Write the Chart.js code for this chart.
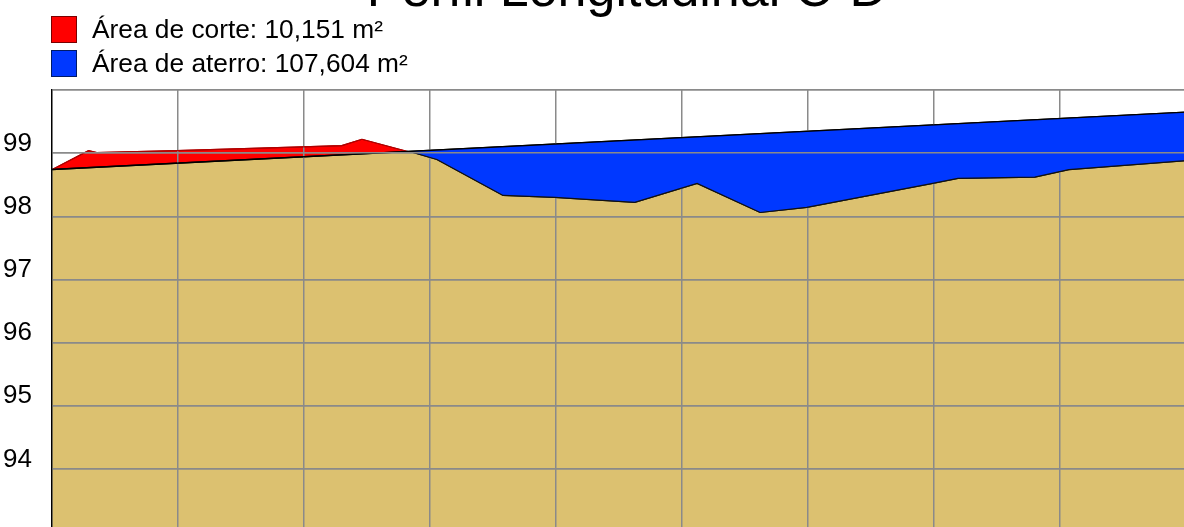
<!DOCTYPE html>
<html>
<head>
<meta charset="utf-8">
<title>Perfil Longitudinal C-D</title>
<script src="https://cdn.jsdelivr.net/npm/chart.js@4.4.1/dist/chart.umd.min.js"></script>
<style>
  html, body { margin: 0; padding: 0; background: #fff; overflow: hidden; }
  body { width: 1184px; height: 527px; position: relative; font-family: "Liberation Sans", Arial, sans-serif; }
  .wrap { position: absolute; left: 0; top: 0; width: 1254px; height: 575px; }
  #titulo { position: absolute; left: 0; top: -38px; width: 1254px; text-align: center; font-size: 52px; line-height: 52px; color: #000; white-space: nowrap; }
  .leg { position: absolute; left: 51px; height: 26px; font-size: 26.3px; line-height: 26px; color: #000; white-space: nowrap; }
  .leg i { position: absolute; left: 0; top: 0; width: 24px; height: 25px; border: 1px solid; }
  .leg span { position: absolute; left: 41px; top: 0; }
</style>
</head>
<body>
<div class="wrap"><canvas id="perfil" width="1254" height="575"></canvas></div>
<div class="wrap"><canvas id="aterro" width="1254" height="575"></canvas></div>
<div id="titulo">Perfil Longitudinal C-D</div>
<div class="leg" style="top:16px"><i style="background:#ff0000;border-color:#7a0000"></i><span>Área de corte: 10,151 m²</span></div>
<div class="leg" style="top:50px"><i style="background:#0038ff;border-color:#001a66"></i><span>Área de aterro: 107,604 m²</span></div>
<script>
// estacas (m) e cotas do terreno natural
const terrenoX = [0, 5.8, 7.1, 19.8, 39.8, 46.0, 49.2, 56.3, 57.3, 61.1, 71.6, 79.8, 92.5, 102.4, 112.4, 119.8, 139.8, 143.8, 156.0, 161.4, 180];
const terrenoY = [98.74, 99.04, 99.01, 99.04, 99.10, 99.12, 99.22, 99.03, 99.01, 98.90, 98.33, 98.30, 98.22, 98.52, 98.06, 98.14, 98.52, 98.60, 98.62, 98.74, 98.88];
// greide de projeto
const greideX = [0, 180];
const greideY = [98.74, 99.65];

const Y_MIN = 93, Y_MAX = 100, X_MAX = 180;
const COR_CORTE = '#ff0000', COR_ATERRO = '#0038ff', COR_SOLO = '#dcc170', COR_GRADE = '#8a8a8a';

const pts = (xs, ys) => xs.map((x, i) => ({ x, y: ys[i] }));
const terreno = pts(terrenoX, terrenoY);
const greide = pts(greideX, greideY);

// cota do greide numa estaca (só para escolher a cor do contorno)
function cotaGreide(x) {
  const t = (x - greideX[0]) / (greideX[1] - greideX[0]);
  return greideY[0] + t * (greideY[1] - greideY[0]);
}
const emCorte = c => c.p0.parsed.y > cotaGreide(c.p0.parsed.x) + 0.01 || c.p1.parsed.y > cotaGreide(c.p1.parsed.x) + 0.01;

function opcoes(base) {
  return {
    responsive: false,
    animation: false,
    devicePixelRatio: 1,
    layout: { padding: { top: 90, right: 68, left: 0, bottom: 0 } },
    plugins: { legend: { display: false }, title: { display: false }, tooltip: { enabled: false } },
    scales: {
      x: {
        type: 'linear', min: 0, max: X_MAX,
        grid: { display: base, color: COR_GRADE, lineWidth: 1.5, drawTicks: false, z: 1 },
        border: { display: false },
        ticks: { stepSize: 20, color: base ? '#000' : 'transparent', font: { family: 'Liberation Sans', size: 26 } },
        afterFit: s => { s.height = 43; }
      },
      y: {
        min: Y_MIN, max: Y_MAX,
        grid: { color: COR_GRADE, lineWidth: 1.5, drawTicks: false, z: 1 },
        border: { display: true, color: '#000', width: 1.2, z: 2 },
        ticks: {
          stepSize: 1, padding: 20, labelOffset: -9.5, color: base ? '#000' : 'transparent',
          font: { family: 'Liberation Sans', size: 26 },
          callback: v => (v === Y_MIN || v === Y_MAX) ? '' : v
        },
        afterFit: s => { s.width = 52; }
      }
    }
  };
}

// camada de baixo: solo + corte + grade
new Chart(document.getElementById('perfil'), {
  type: 'line',
  data: {
    datasets: [
      { data: terreno, order: 2, borderColor: '#111', borderWidth: 1.2, pointRadius: 0,
        segment: { borderColor: c => emCorte(c) ? '#b00000' : '#111' },
        fill: { target: 1, above: COR_CORTE, below: 'transparent' } },
      { data: greide, order: 1, borderColor: '#000', borderWidth: 1.4, pointRadius: 0, fill: false },
      { data: terreno, order: 4, borderWidth: 0, pointRadius: 0, backgroundColor: COR_SOLO, fill: 'start' },
      { data: greide, order: 3, borderWidth: 0, pointRadius: 0, backgroundColor: COR_SOLO, fill: 'start' }
    ]
  },
  options: opcoes(true)
});

// camada de cima: aterro (cobre as verticais da grade, linhas horizontais por cima)
new Chart(document.getElementById('aterro'), {
  type: 'line',
  data: {
    datasets: [
      { data: terreno, order: 2, borderColor: '#111', borderWidth: 1.2, pointRadius: 0,
        segment: { borderColor: c => emCorte(c) ? '#b00000' : '#111' },
        fill: { target: 1, above: 'transparent', below: COR_ATERRO } },
      { data: greide, order: 1, borderColor: '#000', borderWidth: 1.4, pointRadius: 0, fill: false }
    ]
  },
  options: opcoes(false)
});
</script>
</body>
</html>
